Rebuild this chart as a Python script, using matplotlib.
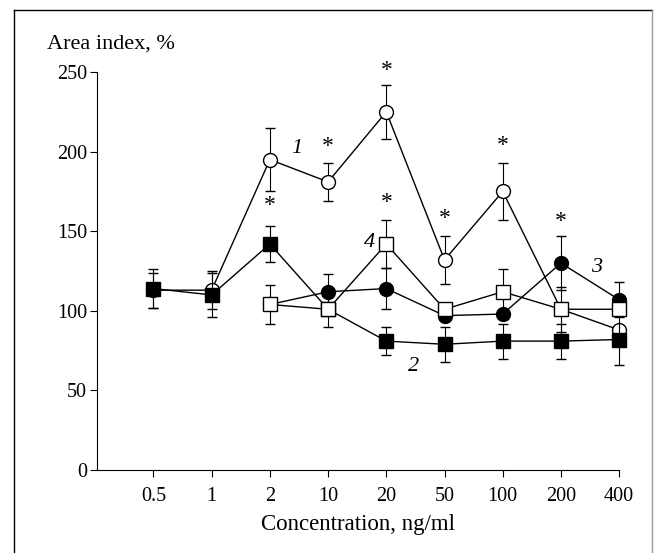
import matplotlib
matplotlib.use('Agg')
import matplotlib.pyplot as plt
from matplotlib.lines import Line2D
import numpy as np

plt.rcParams['font.family'] = ['Liberation Serif', 'DejaVu Serif']

conc_labels = ['0.5', '1', '2', '10', '20', '50', '100', '200', '400']

# series 1: open circles
s1_idx = [0, 1, 2, 3, 4, 5, 6, 7, 8]
s1_val = [113, 113, 195, 181, 225, 132, 175, 101, 88]
s1_err = [11, 12, 20, 12, 17, 15, 18, 0, 0]

# series 2: filled squares
s2_idx = [0, 1, 2, 3, 4, 5, 6, 7, 8]
s2_val = [114, 110, 142, 101, 81, 79, 81, 81, 82]
s2_err = [12, 14, 11, 0, 9, 11, 11, 11, 16]

# series 3: filled circles
s3_idx = [2, 3, 4, 5, 6, 7, 8]
s3_val = [104, 112, 114, 97, 98, 130, 107]
s3_err = [0, 11, 13, 0, 0, 17, 11]

# series 4: open squares
s4_idx = [2, 3, 4, 5, 6, 7, 8]
s4_val = [104, 101, 142, 101, 112, 101, 101]
s4_err = [12, 11, 15, 0, 14, 14, 0]

# significance stars (x index, y value)
star_x = [2, 3, 4, 4, 5, 6, 7]
star_y = [166, 203, 251, 168, 158, 204, 156]

# curve numbers (x index, y value, text)
num_x = [2.47, 4.46, 7.62, 3.72]
num_y = [202, 65, 127, 143]
num_txt = ['1', '2', '3', '4']

fig = plt.figure(figsize=(6.61, 5.53), dpi=100)
ax = fig.add_axes([0.1467, 0.150, 0.790, 0.7197])

common = dict(color='black', linewidth=1.0, markersize=10, markeredgewidth=1.0,
              ecolor='black', elinewidth=0.8, capsize=3.5, capthick=0.8)

series = [
    (s1_idx, s1_val, s1_err, '-o', 'white', 3),
    (s3_idx, s3_val, s3_err, '-o', 'black', 3),
    (s2_idx, s2_val, s2_err, '-s', 'black', 4),
    (s4_idx, s4_val, s4_err, '-s', 'white', 5),
]
for xs, ys, es, fmt, face, z in series:
    cont = ax.errorbar(xs, ys, yerr=es, fmt=fmt, markerfacecolor=face, zorder=z, **common)
    for art in cont.get_children():
        art.set_clip_on(False)

for x, y in zip(star_x, star_y):
    ax.text(x, y, '*', ha='center', va='center', fontsize=17, clip_on=False)

for x, y, t in zip(num_x, num_y, num_txt):
    ax.text(x, y, t, ha='center', va='center', fontsize=16, style='italic')

ax.set_xlim(-0.97, 8.0)
ax.set_ylim(0, 250)
ax.set_xticks(range(len(conc_labels)))
ax.set_xticklabels(conc_labels)
ax.set_yticks([0, 50, 100, 150, 200, 250])
ax.spines['top'].set_visible(False)
ax.spines['right'].set_visible(False)
ax.tick_params(labelsize=14.5, width=0.8, length=5)
ax.tick_params(axis='x', pad=7)
ax.tick_params(axis='y', pad=2)
ax.set_xlabel('Concentration, ng/ml', fontsize=16.5, labelpad=6)
fig.text(0.071, 0.920, 'Area index, %', fontsize=16, ha='left', va='center')

# scanned page frame
fig.add_artist(Line2D([14 / 661, 652 / 661], [1 - 10 / 553, 1 - 10 / 553], color='black', linewidth=1.0))
fig.add_artist(Line2D([14 / 661, 14 / 661], [0, 1 - 10 / 553], color='black', linewidth=1.0))
fig.add_artist(Line2D([652 / 661, 652 / 661], [0, 1 - 10 / 553], color='0.6', linewidth=1.0))

fig.savefig('out.png', dpi=100)
